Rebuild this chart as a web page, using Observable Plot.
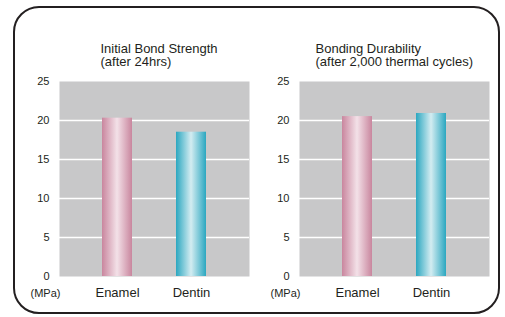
<!DOCTYPE html>
<html>
<head>
<meta charset="utf-8">
<script src="https://cdn.jsdelivr.net/npm/d3@7"></script>
<script src="https://cdn.jsdelivr.net/npm/@observablehq/plot@0.6"></script>
<style>
  html, body { margin: 0; padding: 0; background: #fff; }
  #wrap { position: relative; width: 505px; height: 317px; overflow: hidden; font-family: "Liberation Sans", Arial, sans-serif; }
  #frame { position: absolute; left: 12.75px; top: 6px; width: 487px; height: 308px; box-sizing: border-box; border: 2.6px solid #231f20; border-radius: 26px; }
  .title { position: absolute; font-size: 13px; line-height: 13.5px; color: #231f20; white-space: nowrap; }
  .panel { position: absolute; top: 70px; }
</style>
</head>
<body>
<div id="wrap">
  <div id="frame"></div>
  <div class="title" id="t0" style="left:100.5px; top:41.5px;"></div>
  <div class="title" id="t1" style="left:315.5px; top:41.5px;"></div>
  <div class="panel" id="p0" style="left:0px;"></div>
  <div class="panel" id="p1" style="left:245px;"></div>
</div>
<script>
// ---- data ----
const categories = ["Enamel", "Dentin"];
const initialValues = [20.3, 18.5];
const durabilityValues = [20.5, 20.9];
const panelTitles = [["Initial Bond Strength", "(after 24hrs)"], ["Bonding Durability", "(after 2,000 thermal cycles)"]];
const yTicks = [0, 5, 10, 15, 20, 25];
const gridTicks = [5, 10, 15, 20];
const unitLabel = "(MPa)";
const barGradients = { Enamel: ["#c9869e", "#f3e1e8"], Dentin: ["#2ba7c0", "#d3ecf1"] };

function makePanel(values, idx, marginLeft, marginRight) {
  const gid = (c) => `grad-${idx}-${c}`;
  const data = categories.map((c, i) => ({ cat: c, value: values[i], fill: `url(#${gid(c)})` }));
  const svg = Plot.plot({
    width: 252,
    height: 235,
    marginTop: 11,
    marginBottom: 29,
    marginLeft,
    marginRight,
    style: { fontFamily: '"Liberation Sans", Arial, sans-serif', color: "#231f20", background: "transparent" },
    x: { domain: categories, paddingInner: 0.595, paddingOuter: 0.581, label: null },
    y: { domain: [0, 25], label: null },
    color: { type: "identity" },
    marks: [
      Plot.frame({ fill: "#c8c8c9", stroke: null }),
      Plot.ruleY(gridTicks, { stroke: "#ffffff", strokeWidth: 1.3 }),
      Plot.barY(data, { x: "cat", y: "value", fill: "fill" }),
      Plot.axisY({ ticks: yTicks, tickSize: 0, tickPadding: 10, fontSize: 11, label: null }),
      Plot.axisX({ tickSize: 0, tickPadding: 11, fontSize: 13, label: null }),
      Plot.text([unitLabel], { frameAnchor: "bottom-left", textAnchor: "end", lineAnchor: "bottom", dx: 1, dy: 20, fontSize: 11 })
    ]
  });
  const defs = d3.select(svg).insert("defs", ":first-child");
  categories.forEach((c) => {
    const [edge, mid] = barGradients[c];
    const g = defs.append("linearGradient").attr("id", gid(c)).attr("x1", "0").attr("x2", "1").attr("y1", "0").attr("y2", "0");
    g.append("stop").attr("offset", "0").attr("stop-color", edge);
    g.append("stop").attr("offset", "0.5").attr("stop-color", mid);
    g.append("stop").attr("offset", "1").attr("stop-color", edge);
  });
  return svg;
}

document.getElementById("p0").appendChild(makePanel(initialValues, 0, 59, 3));
document.getElementById("p1").appendChild(makePanel(durabilityValues, 1, 54, 8));
panelTitles.forEach((lines, i) => {
  document.getElementById("t" + i).innerHTML = lines.join("<br>");
});
</script>
</body>
</html>
